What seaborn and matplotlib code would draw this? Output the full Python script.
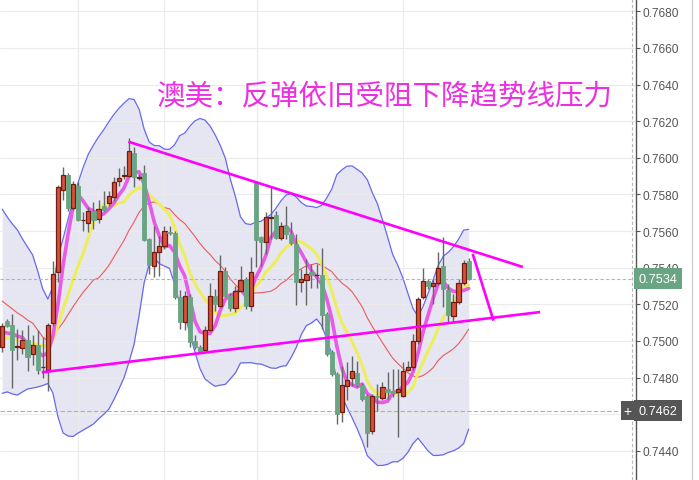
import numpy   as np
import pandas  as pd
import seaborn as sns

from matplotlib       import pyplot as plt
from matplotlib.lines import Line2D

sns.set_theme(style="white")
plt.rcParams['font.family'] = ['Liberation Sans', 'Noto Sans CJK SC', 'DejaVu Sans']

# ---- candles (AUD/USD, oldest -> newest) ----
opens  = [0.74966, 0.75111, 0.75087, 0.74967, 0.74963, 0.75007, 0.74927, 0.74978, 0.74858, 0.74842,
          0.75096, 0.75375, 0.75824, 0.75906, 0.75724, 0.75848, 0.75660, 0.75646, 0.75708, 0.75664,
          0.75739, 0.75755, 0.75784, 0.75875, 0.75899, 0.75902, 0.76026, 0.75890, 0.75917, 0.75557,
          0.75408, 0.75484, 0.75517, 0.75597, 0.75590, 0.75242, 0.75105, 0.75242, 0.75002, 0.74966,
          0.74952, 0.75062, 0.75244, 0.75193, 0.75384, 0.75247, 0.75178, 0.75274, 0.75338, 0.75193,
          0.75866, 0.75566, 0.75539, 0.75672, 0.75688, 0.75562, 0.75626, 0.75584, 0.75530, 0.75324,
          0.75335, 0.75375, 0.75358, 0.75360, 0.75147, 0.74938, 0.74820, 0.74614, 0.74756, 0.74796,
          0.74825, 0.74760, 0.74698, 0.74507, 0.74701, 0.74687, 0.74738, 0.74728, 0.74723, 0.74701,
          0.74843, 0.74856, 0.74998, 0.75238, 0.75326, 0.75299, 0.75315, 0.75408, 0.75280, 0.75135,
          0.75214, 0.75315, 0.75435]
highs  = [0.75098, 0.75120, 0.75147, 0.75065, 0.75062, 0.75087, 0.75033, 0.75060, 0.75022, 0.75100,
          0.75438, 0.75852, 0.75952, 0.75917, 0.75872, 0.75868, 0.75704, 0.75730, 0.75760, 0.75771,
          0.75821, 0.75821, 0.75894, 0.75943, 0.75954, 0.76107, 0.76058, 0.75910, 0.75961, 0.75560,
          0.75630, 0.75575, 0.75626, 0.75626, 0.75601, 0.75278, 0.75274, 0.75257, 0.75033, 0.74978,
          0.75083, 0.75317, 0.75284, 0.75470, 0.75404, 0.75262, 0.75302, 0.75411, 0.75349, 0.75457,
          0.75873, 0.75573, 0.75703, 0.75839, 0.75711, 0.75648, 0.75738, 0.75648, 0.75584, 0.75393,
          0.75448, 0.75420, 0.75420, 0.75506, 0.75158, 0.74951, 0.74831, 0.74865, 0.74884, 0.74920,
          0.74892, 0.74771, 0.74710, 0.74710, 0.74765, 0.74774, 0.74829, 0.74847, 0.74847, 0.74885,
          0.74891, 0.75038, 0.75238, 0.75397, 0.75338, 0.75338, 0.75487, 0.75566, 0.75311, 0.75257,
          0.75338, 0.75444, 0.75451]
lows   = [0.74941, 0.75076, 0.74743, 0.74896, 0.74929, 0.74838, 0.74869, 0.74820, 0.74798, 0.74728,
          0.75082, 0.75322, 0.75771, 0.75710, 0.75715, 0.75655, 0.75602, 0.75593, 0.75611, 0.75643,
          0.75710, 0.75737, 0.75766, 0.75848, 0.75884, 0.75895, 0.75839, 0.75880, 0.75546, 0.75366,
          0.75348, 0.75353, 0.75502, 0.75579, 0.75229, 0.75065, 0.75061, 0.74967, 0.74956, 0.74934,
          0.74945, 0.75055, 0.75165, 0.75186, 0.75240, 0.75164, 0.75160, 0.75267, 0.75175, 0.75165,
          0.75404, 0.75411, 0.75475, 0.75557, 0.75557, 0.75553, 0.75557, 0.75524, 0.75197, 0.75269,
          0.75197, 0.75288, 0.75290, 0.75065, 0.74918, 0.74809, 0.74547, 0.74556, 0.74679, 0.74756,
          0.74749, 0.74672, 0.74420, 0.74492, 0.74619, 0.74679, 0.74683, 0.74694, 0.74474, 0.74694,
          0.74836, 0.74842, 0.74983, 0.75229, 0.75284, 0.75202, 0.75306, 0.75184, 0.75105, 0.75102,
          0.75202, 0.75306, 0.75333]
closes = [0.75083, 0.75083, 0.74952, 0.74970, 0.75004, 0.74914, 0.74978, 0.74842, 0.74860, 0.75087,
          0.75366, 0.75839, 0.75906, 0.75724, 0.75857, 0.75662, 0.75663, 0.75708, 0.75662, 0.75721,
          0.75717, 0.75793, 0.75866, 0.75888, 0.75906, 0.76036, 0.75894, 0.75896, 0.75553, 0.75415,
          0.75484, 0.75520, 0.75599, 0.75588, 0.75238, 0.75105, 0.75244, 0.74996, 0.74966, 0.74942,
          0.75062, 0.75244, 0.75202, 0.75384, 0.75247, 0.75180, 0.75274, 0.75335, 0.75193, 0.75375,
          0.75553, 0.75542, 0.75675, 0.75675, 0.75562, 0.75626, 0.75584, 0.75535, 0.75324, 0.75338,
          0.75364, 0.75360, 0.75362, 0.75142, 0.74929, 0.74820, 0.74601, 0.74760, 0.74787, 0.74834,
          0.74760, 0.74683, 0.74497, 0.74698, 0.74692, 0.74747, 0.74723, 0.74716, 0.74738, 0.74834,
          0.74856, 0.74998, 0.75229, 0.75326, 0.75299, 0.75315, 0.75397, 0.75284, 0.75143, 0.75214,
          0.75315, 0.75424, 0.75338]

# indicator values at the left edge (history before the window)
ma5_head   = [0.75049, 0.75044, 0.75038, 0.75027]
ma10_head  = [0.75022, 0.75016, 0.75011, 0.75005, 0.75000, 0.74994, 0.74989, 0.74978, 0.74972]
mid_head   = [0.75218, 0.75196, 0.75175, 0.75153, 0.75136, 0.75114, 0.75098, 0.75060, 0.75022, 0.75000,
              0.75027, 0.75065, 0.75100, 0.75145, 0.75188, 0.75229, 0.75267, 0.75300, 0.75333]
upper_head = [0.75720, 0.75677, 0.75639, 0.75606, 0.75557, 0.75513, 0.75470, 0.75382, 0.75284, 0.75229,
              0.75295, 0.75459, 0.75557, 0.75666, 0.75775, 0.75868, 0.75950, 0.76021, 0.76070]
lower_head = [0.74714, 0.74722, 0.74711, 0.74705, 0.74722, 0.74738, 0.74743, 0.74749, 0.74757, 0.74768,
              0.74716, 0.74585, 0.74498, 0.74481, 0.74479, 0.74498, 0.74514, 0.74530, 0.74547]

# hand drawn trend lines: (candle index, price) end points
trend_upper = ([24.9, 102.7], [0.76088, 0.75404])
trend_lower = ([7.8, 106.1],  [0.74829, 0.75158])
pointer     = ([92.8, 96.9],  [0.75475, 0.75111])

yticks     = np.round(np.arange(0.7440, 0.76801, 0.0020), 4)
vgrid      = [14.9, 31.9, 50.2, 79.1]
last_price = 0.7534
cross      = 0.7462
title      = '澳美：反弹依旧受阻下降趋势线压力'

# ---- indicators ----
df = pd.DataFrame({'o': opens, 'h': highs, 'l': lows, 'c': closes})
df['i']    = np.arange(len(df))
df['ma5']  = df['c'].rolling(5).mean()
df['ma10'] = df['c'].rolling(10).mean()
df['mid']  = df['c'].rolling(20).mean()
sd         = df['c'].rolling(20).std(ddof=0)
df['up']   = df['mid'] + 2*sd
df['lo']   = df['mid'] - 2*sd
df.loc[:len(ma5_head)-1,   'ma5']  = ma5_head
df.loc[:len(ma10_head)-1,  'ma10'] = ma10_head
df.loc[:len(mid_head)-1,   'mid']  = mid_head
df.loc[:len(upper_head)-1, 'up']   = upper_head
df.loc[:len(lower_head)-1, 'lo']   = lower_head

# ---- figure ----
fig = plt.figure(figsize=(6.99, 4.81), dpi=100)
ax  = fig.add_axes([0, 0, 636/699, 1])
ax.set_facecolor('white')

ax.fill_between(df['i'], df['lo'], df['up'], color='#e6e6f2', lw=0, zorder=0.3)
sns.lineplot(data=df, x='i', y='up',   ax=ax, color='#6868f0', lw=0.9, zorder=2)
sns.lineplot(data=df, x='i', y='lo',   ax=ax, color='#6868f0', lw=0.9, zorder=2)
sns.lineplot(data=df, x='i', y='mid',  ax=ax, color='#ec5a5a', lw=0.8, zorder=2)
sns.lineplot(data=df, x='i', y='ma10', ax=ax, color='#eeee5c', lw=2.2, zorder=2.2)
sns.lineplot(data=df, x='i', y='ma5',  ax=ax, color='#ea4ce6', lw=2.6, alpha=0.9, zorder=2.4)

up_mask = df['c'] >= df['o']
ax.vlines(df['i'], df['l'], df['h'], color='#666666', lw=1.0, zorder=4)
body   = (df['c'] - df['o']).abs().clip(lower=0.00002)
bottom = df[['o', 'c']].min(axis=1)
ax.bar(df['i'][up_mask],  body[up_mask],  bottom=bottom[up_mask],  width=0.82,
       color='#d6503a', edgecolor='#6e1d10', lw=0.9, zorder=5)
ax.bar(df['i'][~up_mask], body[~up_mask], bottom=bottom[~up_mask], width=0.82,
       color='#6aa583', edgecolor='#6aa583', lw=0.6, zorder=5)

for xs, ys in (trend_upper, trend_lower, pointer):
    ax.plot(xs, ys, color='#ff00ff', lw=1.9, solid_capstyle='butt', zorder=7)

ax.axhline(last_price, color='#a9b8b8', lw=0.8, ls=(0, (3, 2)), zorder=3)
ax.axhline(cross, xmax=620/636, color='#b0b0b0', lw=0.8, ls=(0, (4, 2)), zorder=3)
ax.axvline(124.2, color='#b8b8b8', lw=0.8, ls=(0, (3, 2)), zorder=3)

ax.text(0.605, 0.80, title, transform=ax.transAxes, ha='center', va='center',
        fontsize=20.5, color='#ec2fe0', family=['Noto Sans CJK SC', 'DejaVu Sans'], zorder=8)

# ---- axes ----
ax.set_xlim(-0.434, 125.0)
ax.set_ylim(0.74241, 0.768672)
ax.set_xticks(vgrid)
ax.set_yticks(yticks)
# the 0.7460 label sits under the crosshair price box, as in the reference
ax.set_yticklabels(['' if abs(t - 0.7460) < 1e-6 else f'{t:.4f}' for t in yticks])
ax.yaxis.tick_right()
ax.tick_params(axis='x', length=0, labelbottom=False)
ax.tick_params(axis='y', right=True, left=False, length=3, width=0.8, pad=1.5,
               color='#555555', labelcolor='#555555', labelsize=8.6)
ax.set_xlabel('')
ax.set_ylabel('')
ax.grid(True, color='#ebebeb', lw=0.8)
ax.set_axisbelow(True)
for s in ('top', 'left', 'bottom'):
    ax.spines[s].set_visible(False)
ax.spines['right'].set_color('#555555')
ax.spines['right'].set_linewidth(1.0)

box = dict(boxstyle='square,pad=0.34', lw=0)
ax.annotate(f'{last_price:.4f}', xy=(1, last_price), xycoords=('axes fraction', 'data'),
            xytext=(2, 0), textcoords='offset points', va='center', ha='left',
            fontsize=9.2, color='white', bbox=dict(box, fc='#6aa583'), zorder=9,
            annotation_clip=False)
ax.annotate(f'{cross:.4f}', xy=(1, cross), xycoords=('axes fraction', 'data'),
            xytext=(2, 0), textcoords='offset points', va='center', ha='left',
            fontsize=9.2, color='white', bbox=dict(box, fc='#555555'), zorder=9,
            annotation_clip=False)
ax.annotate('+', xy=(627/636, cross), xycoords=('axes fraction', 'data'),
            va='center', ha='center', fontsize=10, color='white',
            bbox=dict(boxstyle='square,pad=0.18', lw=0, fc='#555555'), zorder=9)

fig.add_artist(Line2D([692/699, 692/699], [0, 1], color='#d0d0d0', lw=1.0))

fig.savefig('out.png', dpi=100)
